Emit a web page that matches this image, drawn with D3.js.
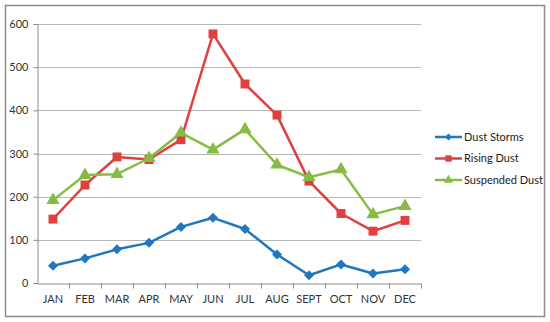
<!DOCTYPE html>
<html>
<head>
<meta charset="utf-8">
<script src="https://cdn.jsdelivr.net/npm/d3@7"></script>
<style>
  body { margin: 0; background: #fff; }
  text { font-family: Lato, "Open Sans", sans-serif; }
</style>
</head>
<body>
<div id="chart"></div>
<script>
// data
var months = ["JAN", "FEB", "MAR", "APR", "MAY", "JUN", "JUL", "AUG", "SEPT", "OCT", "NOV", "DEC"];
var dustStorms = [40, 57, 78, 93, 130, 151, 125, 66, 18, 43, 22, 32];
var risingDust = [148, 227, 292, 286, 332, 577, 461, 389, 236, 161, 120, 145];
var suspendedDust = [192, 250, 252, 289, 348, 309, 356, 274, 245, 263, 159, 178];
var yTicks = [0, 100, 200, 300, 400, 500, 600];

var series = [
    {name: "Dust Storms", values: dustStorms, color: "#1f78bf", symbol: d3.symbolSquare, size: 50, rotate: 45},
    {name: "Rising Dust", values: risingDust, color: "#e0403f", symbol: d3.symbolSquare, size: 80, rotate: 0},
    {name: "Suspended Dust", values: suspendedDust, color: "#86bb45", symbol: d3.symbolTriangle, size: 75, rotate: 0}
];

var width = 550, height = 322;
var margin = {top: 24, left: 37, right: 129, bottom: 39};

var svg = d3.select("#chart").append("svg")
    .attr("width", width)
    .attr("height", height);

// outer frame
svg.append("rect")
    .attr("x", 5.5).attr("y", 5.5)
    .attr("width", 539).attr("height", 311)
    .attr("fill", "#fff")
    .attr("stroke", "#8c8c8c")
    .attr("stroke-width", 1.5);

var xScale = d3.scaleBand().domain(months).range([margin.left, width - margin.right]);
var yScale = d3.scaleLinear().domain([0, 600]).range([height - margin.bottom, margin.top]);

// gridlines
svg.append("g")
    .selectAll("line")
    .data(yTicks.slice(1))
    .join("line")
    .attr("x1", margin.left).attr("x2", width - margin.right)
    .attr("y1", d => Math.round(yScale(d)) + 0.5)
    .attr("y2", d => Math.round(yScale(d)) + 0.5)
    .attr("stroke", "#b8b8b8")
    .attr("stroke-width", 1);

// y axis
var yAxis = d3.axisLeft(yScale).tickValues(yTicks).tickSize(4).tickPadding(5);
svg.append("g")
    .attr("transform", `translate(${margin.left + 0.5},0)`)
    .call(yAxis)
    .call(g => g.select(".domain").attr("stroke", "#8c8c8c"))
    .call(g => g.selectAll(".tick line").attr("stroke", "#8c8c8c"))
    .call(g => g.selectAll(".tick text").attr("fill", "#333").attr("font-size", 11));

// x axis with ticks between categories
var xAxis = d3.axisBottom(xScale).tickSize(0).tickPadding(12).tickSizeOuter(0);
var gx = svg.append("g")
    .attr("transform", `translate(0,${Math.round(yScale(0)) + 0.5})`)
    .call(xAxis)
    .call(g => g.select(".domain").attr("stroke", "#8c8c8c"))
    .call(g => g.selectAll(".tick text").attr("fill", "#333").attr("font-size", 11));

gx.append("g")
    .selectAll("line")
    .data(months)
    .join("line")
    .attr("x1", d => Math.round(xScale(d) + xScale.bandwidth()) + 0.5)
    .attr("x2", d => Math.round(xScale(d) + xScale.bandwidth()) + 0.5)
    .attr("y1", 0).attr("y2", 5)
    .attr("stroke", "#8c8c8c");

var cx = d => xScale(d) + xScale.bandwidth() / 2;

var line = d3.line()
    .x((d, i) => cx(months[i]))
    .y(d => yScale(d));

series.forEach(function(s) {
    var g = svg.append("g");
    g.append("path")
        .attr("d", line(s.values))
        .attr("fill", "none")
        .attr("stroke", s.color)
        .attr("stroke-width", 2.5)
        .attr("stroke-linejoin", "round");
    g.selectAll("path.pt")
        .data(s.values)
        .join("path")
        .attr("class", "pt")
        .attr("transform", (d, i) => `translate(${cx(months[i])},${yScale(d)}) rotate(${s.rotate})`)
        .attr("d", d3.symbol().type(s.symbol).size(s.size))
        .attr("fill", s.color);
});

// legend
var legend = svg.append("g").attr("transform", "translate(435,137)");
series.forEach(function(s, i) {
    var row = legend.append("g").attr("transform", `translate(0,${i * 21.5})`);
    row.append("line")
        .attr("x1", 0).attr("x2", 27)
        .attr("stroke", s.color)
        .attr("stroke-width", 2.5);
    row.append("path")
        .attr("transform", `translate(13.5,0) rotate(${s.rotate})`)
        .attr("d", d3.symbol().type(s.symbol).size(s.size * 0.5))
        .attr("fill", s.color);
    row.append("text")
        .attr("x", 29)
        .attr("y", 0)
        .attr("dy", "0.35em")
        .attr("font-size", 11)
        .attr("fill", "#222")
        .text(s.name);
});
</script>
</body>
</html>
